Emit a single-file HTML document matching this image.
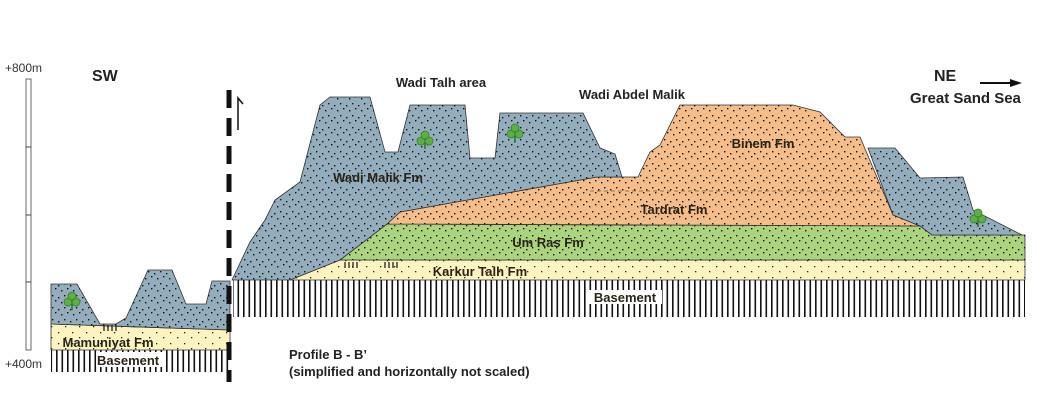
<!DOCTYPE html>
<html><head><meta charset="utf-8"><style>
body{margin:0;background:#fff;}
svg{display:block;font-family:"Liberation Sans",Arial,sans-serif;}
.lbl{font-weight:bold;font-size:13px;fill:#2a2418;}
</style></head><body>
<svg width="1037" height="400" viewBox="0 0 1037 400">
<defs>
<pattern id="dots" width="12" height="12" patternUnits="userSpaceOnUse">
<rect x="1" y="2" width="1.4" height="1.4" fill="#111"/><rect x="7" y="0" width="1.4" height="1.4" fill="#111"/>
<rect x="4" y="7" width="1.4" height="1.4" fill="#111"/><rect x="10" y="9" width="1.4" height="1.4" fill="#111"/>
</pattern>
<pattern id="dots2" width="14" height="11" patternUnits="userSpaceOnUse">
<rect x="2" y="2" width="1.3" height="1.3" fill="#222"/><rect x="9" y="7" width="1.3" height="1.3" fill="#222"/>
</pattern>
<pattern id="base" width="5.5" height="10" patternUnits="userSpaceOnUse">
<rect x="1" y="0" width="1.6" height="10" fill="#111"/>
</pattern>
<g id="tree"><circle cx="-4" cy="0" r="4" fill="#5cae45" stroke="#2f7a2a" stroke-width="0.7"/><circle cx="4" cy="0" r="4" fill="#5cae45" stroke="#2f7a2a" stroke-width="0.7"/><circle cx="0" cy="-6" r="4" fill="#5cae45" stroke="#2f7a2a" stroke-width="0.7"/><rect x="-0.8" y="2" width="1.6" height="6" fill="#2f7a2a"/></g>
</defs>

<g>
<rect x="26" y="79" width="5" height="271" fill="#fff" stroke="#444" stroke-width="0.8"/>
<line x1="26" y1="147" x2="31" y2="147" stroke="#444"/><line x1="26" y1="215" x2="31" y2="215" stroke="#444"/><line x1="26" y1="282" x2="31" y2="282" stroke="#444"/>
<text x="5" y="72" font-size="12" fill="#333">+800m</text>
<text x="5" y="368" font-size="12" fill="#333">+400m</text>
</g>
<text x="92" y="81" font-size="16" font-weight="bold" fill="#222">SW</text>
<text x="934" y="81" font-size="16" font-weight="bold" fill="#222">NE</text>

<g stroke="#333" stroke-width="0.8">
<rect x="51" y="350" width="179" height="22" fill="url(#base)" stroke="none"/>
<polygon points="51,324 230,330 230,350 51,350" fill="#fbf3c0"/><polygon points="51,324 230,330 230,350 51,350" fill="url(#dots2)" stroke="none"/>
<polygon points="51,284 77,284 100,324 116,324 126,318 148,270 172,270 186,304 206,304 212,281 230,281 230,330 51,324" fill="#94adbd"/>
<polygon points="51,284 77,284 100,324 116,324 126,318 148,270 172,270 186,304 206,304 212,281 230,281 230,330 51,324" fill="url(#dots)" stroke="none"/>
</g>
<use href="#tree" x="72" y="302"/>
<text x="108" y="347" text-anchor="middle" class="lbl">Mamuniyat Fm</text>
<rect x="96" y="352" width="70" height="15" fill="#fff"/>
<text x="97" y="365" class="lbl">Basement</text>

<line x1="229" y1="90" x2="229" y2="382" stroke="#111" stroke-width="5" stroke-dasharray="18,10"/>
<path d="M238,130 V98 L243,104" fill="none" stroke="#111" stroke-width="1.5"/>

<g stroke="#333" stroke-width="0.8">
<rect x="233" y="280" width="792" height="37" fill="url(#base)" stroke="none"/>
<polygon points="290,280 340,260 1025,260 1025,280" fill="#fbf3c0"/><polygon points="290,280 340,260 1025,260 1025,280" fill="url(#dots2)" stroke="none"/>
<polygon points="340,260 387,224 920,226 932,235 1025,235 1025,260" fill="#acd47e"/><polygon points="340,260 387,224 920,226 932,235 1025,235 1025,260" fill="url(#dots)" stroke="none"/>
<polygon points="387,224 400,212 597,177 638,177 650,152 660,145 680,105 793,105 820,112 845,137 860,137 893,215 920,226" fill="#f5bd8a"/><polygon points="387,224 400,212 597,177 638,177 650,152 660,145 680,105 793,105 820,112 845,137 860,137 893,215 920,226" fill="url(#dots)" stroke="none"/>
<line x1="590" y1="191" x2="880" y2="191" stroke="#7a5a3a" stroke-dasharray="4,3"/>
<polygon points="232,280 250,242 265,220 275,200 300,182 320,105 330,97 370,97 385,152 398,152 410,105 465,105 470,158 495,158 500,113 583,113 600,148 615,154 622,177 597,177 400,212 387,224 340,260 290,280" fill="#94adbd"/>
<polygon points="232,280 250,242 265,220 275,200 300,182 320,105 330,97 370,97 385,152 398,152 410,105 465,105 470,158 495,158 500,113 583,113 600,148 615,154 622,177 597,177 400,212 387,224 340,260 290,280" fill="url(#dots)" stroke="none"/>
<polygon points="868,148 895,148 920,178 963,177 973,210 1022,235 932,235 920,226 893,215" fill="#94adbd"/><polygon points="868,148 895,148 920,178 963,177 973,210 1022,235 932,235 920,226 893,215" fill="url(#dots)" stroke="none"/>
</g>
<g stroke="#222" stroke-width="1.3">
<path d="M345,262v6M349,262v6M353,262v6M357,262v6M385,262v6M389,262v6M393,262v6M397,262v6M104,325v6M108,325v6M112,325v6M116,325v6"/>
</g>
<use href="#tree" x="425" y="141"/>
<use href="#tree" x="515" y="134"/>
<use href="#tree" x="978" y="219"/>

<text x="378" y="182" text-anchor="middle" class="lbl">Wadi Malik Fm</text>
<text x="763" y="148" text-anchor="middle" class="lbl">Binem Fm</text>
<text x="674" y="214" text-anchor="middle" class="lbl">Tardrat Fm</text>
<text x="548" y="247" text-anchor="middle" class="lbl">Um Ras Fm</text>
<text x="480" y="276" text-anchor="middle" class="lbl">Karkur Talh Fm</text>
<rect x="588" y="290" width="74" height="14" fill="#fff"/>
<text x="625" y="302" text-anchor="middle" class="lbl">Basement</text>

<text x="441" y="87" text-anchor="middle" font-size="13" font-weight="bold" fill="#222">Wadi Talh area</text>
<text x="632" y="99" text-anchor="middle" font-size="13" font-weight="bold" fill="#222">Wadi Abdel Malik</text>
<text x="910" y="103" font-size="15" font-weight="bold" fill="#222">Great Sand Sea</text>
<path d="M980,83 H1012" stroke="#111" stroke-width="2"/>
<polygon points="1010,79 1022,83 1010,87" fill="#111"/>
<text x="289" y="359" font-size="13" font-weight="bold" fill="#222">Profile B - B’</text>
<text x="289" y="376" font-size="13" font-weight="bold" fill="#222">(simplified and horizontally not scaled)</text>
</svg>
</body></html>
